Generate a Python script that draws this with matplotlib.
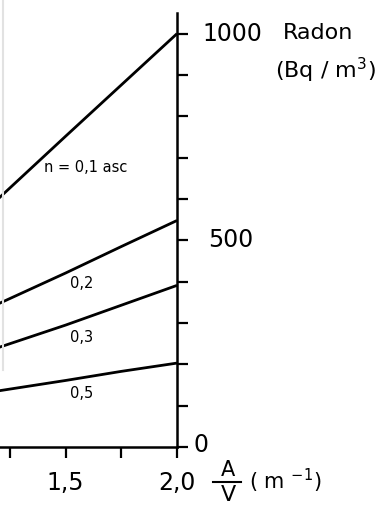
import matplotlib.pyplot as plt
from matplotlib.lines import Line2D

# A/V (m^-1) and radon concentration (Bq/m3) for each ventilation rate n
av = [1.2, 1.5, 1.75, 2.0]
radon_n01 = [602, 752, 876, 1000]
radon_n02 = [347, 421, 485, 548]
radon_n03 = [241, 295, 343, 391]
radon_n05 = [136, 161, 183, 203]
curve_labels = ["n = 0,1 asc", "0,2", "0,3", "0,5"]

x_ticks = [1.25, 1.5, 1.75, 2.0]
x_ticklabels = ["", "1,5", "", "2,0"]
y_ticks = list(range(0, 1001, 100))
y_labels = {0: "0", 500: "500", 1000: "1000"}

plt.rcParams["font.family"] = ["DejaVu Sans"]

W, H = 382, 516
fig = plt.figure(figsize=(W / 100, H / 100), dpi=100)
ax = fig.add_axes([0, 69 / H, 177 / W, 434 / H])

for vals in (radon_n01, radon_n02, radon_n03, radon_n05):
    ax.plot(av, vals, color="black", lw=2.0, solid_capstyle="butt")

ax.set_xlim(1.205, 2.0)
ax.set_ylim(0, 1050)

for s in ("left", "top"):
    ax.spines[s].set_visible(False)
for s in ("right", "bottom"):
    ax.spines[s].set_linewidth(1.8)

ax.yaxis.tick_right()
ax.set_yticks(y_ticks)
ax.set_yticklabels([])
ax.set_xticks(x_ticks)
ax.set_xticklabels(x_ticklabels)
ax.tick_params(axis="y", direction="out", length=8, width=1.6)
ax.tick_params(axis="x", direction="out", length=8, width=1.6, pad=9, labelsize=17)

# y tick labels placed by hand like the original lettering
y_offsets = {0: 0.075, 500: 0.14, 1000: 0.115}
y_shift = {0: 5, 500: 0, 1000: 0}
for v, lab in y_labels.items():
    ax.text(2.0 + y_offsets[v], v + y_shift[v], lab, fontsize=17, ha="left",
            va="center", clip_on=False)

# curve labels
ax.text(1.59, 677, curve_labels[0], fontsize=10.5, ha="center", va="center")
ax.text(1.57, 395, curve_labels[1], fontsize=10.5, ha="center", va="center")
ax.text(1.57, 265, curve_labels[2], fontsize=10.5, ha="center", va="center")
ax.text(1.57, 130, curve_labels[3], fontsize=10.5, ha="center", va="center")

# axis titles
fig.text(318 / W, 1 - 33 / H, "Radon", fontsize=16, ha="center", va="center")
fig.text(325 / W, 1 - 70 / H, "(Bq / m$^3$)", fontsize=16, ha="center", va="center")
fig.text(228 / W, 1 - 470 / H, "A", fontsize=15, ha="center", va="center")
fig.add_artist(Line2D([213 / W, 241 / W], [1 - 482 / H, 1 - 482 / H], color="black", lw=1.5))
fig.text(228 / W, 1 - 495 / H, "V", fontsize=16, ha="center", va="center")
fig.text(285 / W, 1 - 481 / H, "( m $^{-1}$)", fontsize=15, ha="center", va="center")

# faint scan edge on the left
fig.add_artist(Line2D([3 / W, 3 / W], [1 - 370 / H, 1.0], color="#e2e2e2", lw=1.5))

fig.savefig("out.png", dpi=100)
